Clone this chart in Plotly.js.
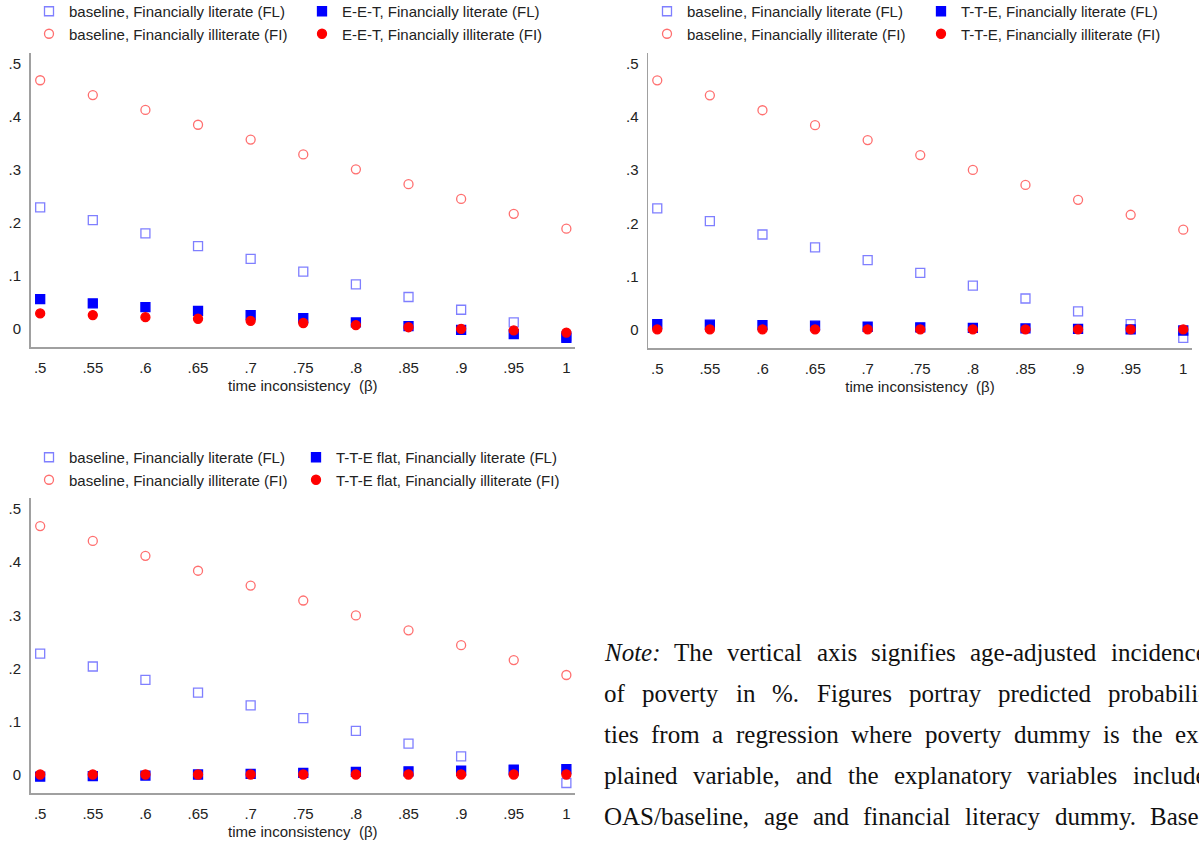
<!DOCTYPE html>
<html>
<head>
<meta charset="utf-8">
<script src="https://cdn.plot.ly/plotly-3.0.1.min.js"></script>
<style>
  html, body { margin: 0; padding: 0; background: #fff; }
  #chart { width: 1199px; height: 846px; }
</style>
</head>
<body>
<div id="chart"></div>
<script>
// time inconsistency (beta) grid
var beta = [0.5, 0.55, 0.6, 0.65, 0.7, 0.75, 0.8, 0.85, 0.9, 0.95, 1];
var betaLabels = ['.5', '.55', '.6', '.65', '.7', '.75', '.8', '.85', '.9', '.95', '1'];
var yTicks = [0, 0.1, 0.2, 0.3, 0.4, 0.5];
var yLabels = ['0', '.1', '.2', '.3', '.4', '.5'];

// baseline (same in all three panels)
var baselineFL = [0.228, 0.204, 0.179, 0.155, 0.131, 0.107, 0.083, 0.059, 0.035, 0.011, -0.015];
var baselineFI = [0.468, 0.440, 0.412, 0.384, 0.356, 0.328, 0.300, 0.272, 0.244, 0.216, 0.188];

// E-E-T
var eetFL = [0.055, 0.047, 0.040, 0.033, 0.025, 0.019, 0.011, 0.004, -0.003, -0.011, -0.018];
var eetFI = [0.028, 0.025, 0.021, 0.018, 0.014, 0.010, 0.006, 0.002, -0.001, -0.004, -0.008];

// T-T-E
var tteFL = [0.011, 0.010, 0.009, 0.008, 0.006, 0.005, 0.004, 0.003, 0.002, 0.001, -0.001];
var tteFI = [0.001, 0.001, 0.001, 0.001, 0.001, 0.001, 0.001, 0.001, 0.001, 0.001, 0.001];

// T-T-E flat
var flatFL = [-0.003, -0.002, -0.001, 0.001, 0.002, 0.004, 0.006, 0.007, 0.008, 0.009, 0.011];
var flatFI = [0.001, 0.001, 0.001, 0.001, 0.001, 0.001, 0.001, 0.001, 0.001, 0.001, 0.001];

// note below the figures, one array per (justified) line
var noteLines = [
    ['<i>Note:</i>', 'The', 'vertical', 'axis', 'signifies', 'age-adjusted', 'incidence'],
    ['of', 'poverty', 'in', '%.', 'Figures', 'portray', 'predicted', 'probabili-'],
    ['ties', 'from', 'a', 'regression', 'where', 'poverty', 'dummy', 'is', 'the', 'ex-'],
    ['plained', 'variable,', 'and', 'the', 'explanatory', 'variables', 'include'],
    ['OAS/baseline,', 'age', 'and', 'financial', 'literacy', 'dummy.', 'Base-']
];

var FONT = 'Liberation Sans, Arial, sans-serif';
var SERIF = 'Liberation Serif';
var BLUE_OPEN = '#7f7fff', RED_OPEN = '#ff6f6f';

function pts(y, name, sym, color, xa, ya, leg) {
    return {
        x: beta, y: y, name: name, type: 'scatter', mode: 'markers',
        xaxis: xa, yaxis: ya, legend: leg, legendgroup: name + leg,
        marker: {symbol: sym, size: 9, color: color, line: {width: 1.3, color: color}},
        cliponaxis: false, hoverinfo: 'x+y'
    };
}

function panel(label, fl, fi, xa, ya, legA, legB) {
    return [
        pts(baselineFL, 'baseline, Financially literate (FL)', 'square-open', BLUE_OPEN, xa, ya, legA),
        pts(baselineFI, 'baseline, Financially illiterate (FI)', 'circle-open', RED_OPEN, xa, ya, legA),
        pts(fl, label + ', Financially literate (FL)', 'square', '#0000ff', xa, ya, legB),
        pts(fi, label + ', Financially illiterate (FI)', 'circle', '#ff0000', xa, ya, legB)
    ];
}

var data = [].concat(
    panel('E-E-T', eetFL, eetFI, 'x', 'y', 'legend', 'legend2'),
    panel('T-T-E', tteFL, tteFI, 'x2', 'y2', 'legend3', 'legend4'),
    panel('T-T-E flat', flatFL, flatFI, 'x3', 'y3', 'legend5', 'legend6')
);

function xAxis(domain, range, anchor) {
    return {
        domain: domain, range: range, anchor: anchor,
        tickmode: 'array', tickvals: beta, ticktext: betaLabels,
        ticks: 'outside', ticklen: 6, tickcolor: 'rgba(0,0,0,0)',
        showgrid: false, zeroline: false, showline: true,
        linecolor: '#a0a0a0', linewidth: 1.5,
        tickfont: {family: FONT, size: 15, color: '#222'},
        title: {text: 'time inconsistency  (β)', standoff: 6,
                font: {family: FONT, size: 15, color: '#222'}}
    };
}

function yAxis(domain, range, anchor) {
    return {
        domain: domain, range: range, anchor: anchor,
        tickmode: 'array', tickvals: yTicks, ticktext: yLabels,
        ticks: 'outside', ticklen: 5, tickcolor: 'rgba(0,0,0,0)',
        showgrid: false, zeroline: false, showline: true,
        linecolor: '#a0a0a0', linewidth: 1.5,
        tickfont: {family: FONT, size: 15, color: '#222'}
    };
}

var W = 1199, H = 846;

// legends placed in page pixels (margins are zero, so paper == page)
function leg(px, py) {
    return {
        x: px / W, y: 1 - py / H, xanchor: 'left', yanchor: 'top',
        bgcolor: 'rgba(0,0,0,0)', borderwidth: 0,
        font: {family: FONT, size: 15, color: '#222'},
        tracegroupgap: 0, itemclick: false
    };
}

// justify each note line between x0 and x1 (right part falls off the page, as in the source)
var ctx = document.createElement('canvas').getContext('2d');
var annotations = [];
var x0 = 602, x1 = 1205, noteSize = 25;
noteLines.forEach(function (words, i) {
    var widths = words.map(function (w) {
        ctx.font = (w.indexOf('<i>') === 0 ? 'italic ' : '') + noteSize + 'px "' + SERIF + '"';
        return ctx.measureText(w.replace(/<[^>]+>/g, '')).width;
    });
    var total = widths.reduce(function (a, b) { return a + b; }, 0);
    var gap = (x1 - x0 - total) / (words.length - 1);
    var x = x0;
    words.forEach(function (w, j) {
        annotations.push({
            xref: 'paper', yref: 'paper', x: x / W, y: 1 - (652 + i * 41) / H,
            xanchor: 'left', yanchor: 'middle', showarrow: false, align: 'left',
            text: w, font: {family: SERIF + ', Times New Roman, serif', size: noteSize, color: '#111'}
        });
        x += widths[j] + gap;
    });
});

var layout = {
    width: W, height: H,
    margin: {l: 0, r: 0, t: 0, b: 0, autoexpand: false},
    paper_bgcolor: '#fff', plot_bgcolor: '#fff',
    showlegend: true,
    xaxis: xAxis([30.6 / W, 575 / W], [0.4909, 1.0082], 'y'),
    yaxis: yAxis([1 - 347 / H, 1 - 53 / H], [-0.0353, 0.5194], 'x'),
    xaxis2: xAxis([648 / W, 1192 / W], [0.4912, 1.0083], 'y2'),
    yaxis2: yAxis([1 - 348 / H, 1 - 53 / H], [-0.0338, 0.5193], 'x2'),
    xaxis3: xAxis([30.6 / W, 575 / W], [0.4909, 1.0082], 'y3'),
    yaxis3: yAxis([1 - 793 / H, 1 - 498 / H], [-0.0338, 0.5207], 'x3'),
    legend: leg(29, -5),
    legend2: leg(302, -5),
    legend3: leg(647, -5),
    legend4: leg(921, -5),
    legend5: leg(29, 441),
    legend6: leg(296, 441),
    annotations: annotations
};

Plotly.newPlot('chart', data, layout, {displayModeBar: false, staticPlot: true});
</script>
</body>
</html>
